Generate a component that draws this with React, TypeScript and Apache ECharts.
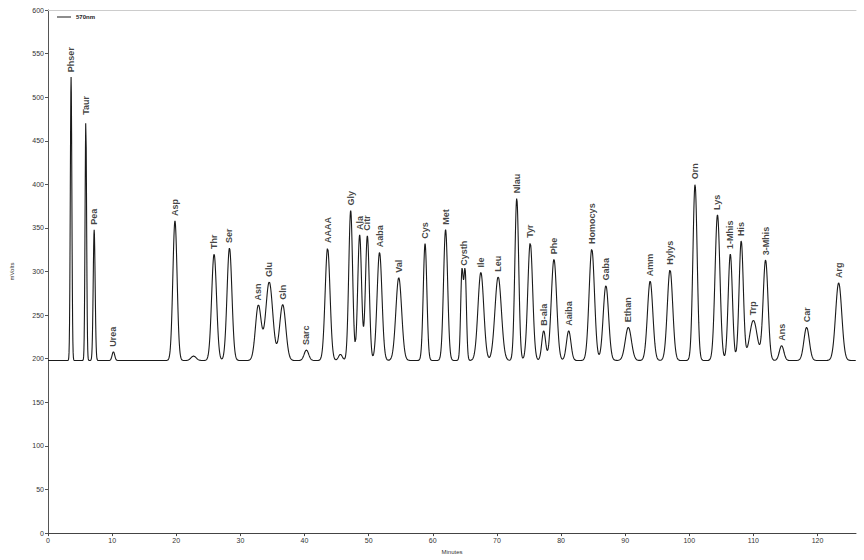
import React, { useEffect, useRef } from "react";
import * as echarts from "echarts";

// Peak table (570 nm channel)
const peakNames = [
  "Phser", "Taur", "Pea", "Urea", "Asp", "", "Thr", "Ser", "Asn", "Glu", "Gln", "Sarc",
  "AAAA", "", "Gly", "Ala", "Citr", "Aaba", "Val", "Cys", "Met", "Cysth", "", "Ile", "Leu",
  "Nlau", "Tyr", "B-ala", "Phe", "Aaiba", "Homocys", "Gaba", "Ethan", "Amm", "Hylys",
  "Orn", "Lys", "1-Mhis", "His", "Trp", "3-Mhis", "Ans", "Car", "Arg",
];
// retention time (minutes)
const retentionTimes = [
  3.6, 5.9, 7.2, 10.2, 19.8, 22.7, 25.9, 28.3, 32.8, 34.5, 36.6, 40.3,
  43.6, 45.6, 47.2, 48.6, 49.8, 51.7, 54.7, 58.8, 62.0, 64.55, 65.05, 67.5, 70.2,
  73.1, 75.2, 77.3, 78.9, 81.2, 84.8, 87.0, 90.5, 93.9, 97.0,
  100.9, 104.4, 106.4, 108.1, 110.0, 111.9, 114.4, 118.3, 123.3,
];
// apex signal (mVolts)
const apexValues = [
  523, 474, 348, 208, 358, 203, 320, 327, 261, 288, 262, 210,
  327, 205, 370, 342, 341, 322, 293, 332, 348, 299, 299, 299, 294,
  384, 333, 232, 314, 232, 326, 284, 236, 289, 302,
  400, 365, 320, 335, 244, 313, 215, 236, 287,
];
// peak width (sigma, minutes)
const peakWidths = [
  0.12, 0.12, 0.15, 0.2, 0.33, 0.4, 0.38, 0.38, 0.45, 0.55, 0.48, 0.35,
  0.38, 0.3, 0.3, 0.3, 0.3, 0.38, 0.45, 0.28, 0.32, 0.2, 0.2, 0.45, 0.5,
  0.3, 0.38, 0.3, 0.42, 0.35, 0.42, 0.42, 0.48, 0.42, 0.42,
  0.33, 0.38, 0.33, 0.33, 0.6, 0.38, 0.35, 0.42, 0.48,
];
const baseline = 198;
const runEnd = 126;

const xTicks = { min: 0, max: 126, interval: 10 };
const yTicks = { min: 0, max: 600, interval: 50 };

function buildTrace(): [number, number][] {
  const pts: [number, number][] = [];
  const n = Math.round(runEnd / 0.04);
  for (let i = 0; i <= n; i++) {
    const t = i * 0.04;
    let v = baseline;
    for (let k = 0; k < retentionTimes.length; k++) {
      const d = t - retentionTimes[k];
      const s = peakWidths[k];
      if (Math.abs(d) > 6 * s) continue;
      v += (apexValues[k] - baseline) * Math.exp(-(d * d) / (2 * s * s));
    }
    pts.push([+t.toFixed(2), +v.toFixed(2)]);
  }
  return pts;
}

export default function App() {
  const ref = useRef<HTMLDivElement>(null);
  useEffect(() => {
    if (!ref.current) return;
    const chart = echarts.init(ref.current, undefined, { renderer: "svg" });
    const labelPoints = peakNames
      .map((name, i) => ({ name, value: [retentionTimes[i], apexValues[i]] }))
      .filter((p) => p.name !== "");
    // Cysth label centred over its split peak
    labelPoints.forEach((p) => {
      if (p.name === "Cysth") p.value = [64.8, 301];
    });
    const axisText = { color: "#333", fontSize: 7, fontFamily: "Liberation Sans, Arial, sans-serif" };
    chart.setOption({
      animation: false,
      backgroundColor: "#fff",
      grid: { left: 48, right: 8, top: 10, bottom: 17 },
      legend: {
        left: 52,
        top: 9,
        itemWidth: 14,
        itemHeight: 1,
        icon: "rect",
        data: ["570nm"],
        textStyle: { fontSize: 6, fontWeight: "bold", color: "#222", fontFamily: "Liberation Sans, Arial, sans-serif" },
        itemGap: 4,
      },
      xAxis: [
        {
          type: "value",
          min: xTicks.min,
          max: xTicks.max,
          interval: xTicks.interval,
          name: "Minutes",
          nameLocation: "middle",
          nameGap: 14,
          nameTextStyle: { fontSize: 6, color: "#333" },
          axisLine: { lineStyle: { color: "#444", width: 1 } },
          axisTick: { length: 3, lineStyle: { color: "#444" } },
          axisLabel: { ...axisText, margin: 4, showMaxLabel: false },
          splitLine: { show: false },
        },
        {
          type: "value",
          position: "top",
          min: xTicks.min,
          max: xTicks.max,
          axisLine: { lineStyle: { color: "#ccc", width: 1 } },
          axisTick: { show: false },
          axisLabel: { show: false },
          splitLine: { show: false },
        },
      ],
      yAxis: {
        type: "value",
        min: yTicks.min,
        max: yTicks.max,
        interval: yTicks.interval,
        name: "mVolts",
        nameLocation: "middle",
        nameGap: 33,
        nameTextStyle: { fontSize: 6, color: "#333" },
        axisLine: { show: true, lineStyle: { color: "#555", width: 1 } },
        axisTick: { show: true, length: 3, lineStyle: { color: "#555" } },
        axisLabel: { ...axisText, margin: 4 },
        splitLine: { show: false },
      },
      series: [
        {
          name: "570nm",
          type: "line",
          data: buildTrace(),
          showSymbol: false,
          symbol: "none",
          lineStyle: { color: "#1a1a1a", width: 1.1 },
          itemStyle: { color: "#1a1a1a" },
        },
        {
          name: "labels",
          type: "scatter",
          data: labelPoints,
          symbolSize: 0,
          silent: true,
          label: {
            show: true,
            formatter: "{b}",
            position: "top",
            distance: 5,
            rotate: 90,
            align: "left",
            verticalAlign: "middle",
            fontSize: 9,
            fontWeight: "bold",
            color: "#111",
            fontFamily: "Liberation Sans, Arial, sans-serif",
          },
        },
      ],
    });
    return () => chart.dispose();
  }, []);
  return <div ref={ref} style={{ width: 864, height: 560, position: "absolute", left: 0, top: 0 }} />;
}
